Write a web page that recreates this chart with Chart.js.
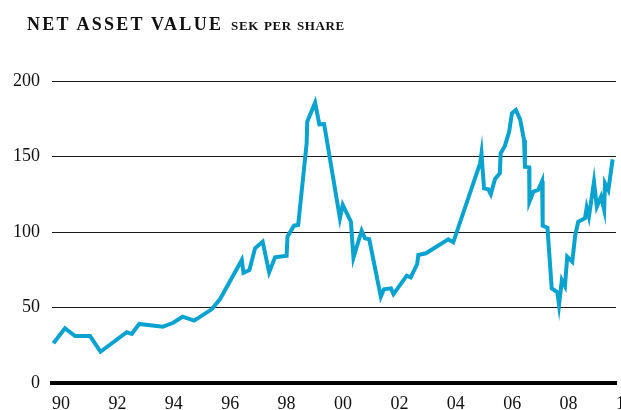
<!DOCTYPE html>
<html lang="en">

<head>
    <meta charset="UTF-8">
    <title>Net Asset Value</title>
    <script src="https://cdn.jsdelivr.net/npm/chart.js"></script>
    <style>
        body {
            margin: 0;
            background: #fff;
            overflow: hidden;
        }

        .wrap {
            position: relative;
            width: 621px;
            height: 410px;
        }

        .title {
            position: absolute;
            left: 27px;
            top: 15px;
            font-family: "Liberation Serif", serif;
            font-size: 18px;
            line-height: 1;
            font-weight: bold;
            color: #111;
            letter-spacing: 2.3px;
            white-space: nowrap;
        }

        .title .sub {
            font-variant: small-caps;
            letter-spacing: 0.6px;
            margin-left: 1px;
        }

        canvas {
            position: absolute;
            left: 0;
            top: 0;
        }
    </style>
</head>

<body>
    <div class="wrap">
        <canvas id="nav" width="621" height="410"></canvas>
        <div class="title">NET ASSET VALUE <span class="sub">sek per share</span></div>
    </div>

    <script>
        // dates as decimal years, values in SEK per share
        const years = [
            1990.05, 1990.46, 1990.82, 1991.35, 1991.72, 1992.65, 1992.83, 1993.09, 1993.93, 1994.30,
            1994.63, 1995.04, 1995.66, 1995.96, 1996.73, 1996.79, 1997.00, 1997.20, 1997.47, 1997.70,
            1997.91, 1998.32, 1998.35, 1998.58, 1998.73, 1999.03, 1999.05, 1999.33, 1999.48, 1999.65,
            2000.21, 2000.31, 2000.60, 2000.69, 2000.98, 2001.10, 2001.25, 2001.66, 2001.77, 2002.02,
            2002.11, 2002.58, 2002.72, 2002.95, 2002.99, 2003.26, 2004.05, 2004.23, 2005.18, 2005.23,
            2005.32, 2005.47, 2005.56, 2005.71, 2005.88, 2005.91, 2006.06, 2006.21, 2006.31, 2006.45,
            2006.60, 2006.74, 2006.77, 2006.92, 2006.93, 2007.07, 2007.24, 2007.38, 2007.40, 2007.57,
            2007.72, 2007.92, 2007.98, 2008.08, 2008.19, 2008.27, 2008.45, 2008.55, 2008.66, 2008.90,
            2008.96, 2009.04, 2009.22, 2009.32, 2009.47, 2009.58, 2009.61, 2009.73, 2009.88
        ];
        const navValues = [
            26.3, 36.2, 31.1, 31.1, 20.7, 33.6, 32.5, 39.1, 37.3, 39.9,
            43.9, 41.3, 48.8, 55.6, 81.5, 73.0, 74.8, 89.2, 93.6, 73.3,
            83.2, 84.3, 96.9, 104.2, 104.6, 158.7, 173.0, 185.6, 171.3, 171.5,
            109.1, 117.9, 106.8, 83.0, 100.9, 95.8, 95.2, 57.2, 62.1, 62.7,
            58.9, 71.1, 70.0, 78.8, 84.8, 85.9, 95.2, 93.2, 145.5, 152.1,
            128.9, 128.3, 125.0, 135.1, 138.9, 152.1, 157.0, 166.4, 178.6, 180.8,
            174.6, 160.9, 143.2, 142.8, 120.1, 126.7, 127.8, 133.8, 104.2, 102.8,
            62.7, 60.1, 51.7, 68.2, 64.2, 83.6, 80.3, 97.4, 106.8, 109.1,
            116.1, 110.1, 133.3, 116.8, 123.4, 114.6, 132.3, 127.8, 148.1
        ];
        const xTickLabels = ["90", "92", "94", "96", "98", "00", "02", "04", "06", "08", "10"];
        const yTicks = [0, 50, 100, 150, 200];

        const points = years.map((y, i) => ({ x: y, y: navValues[i] }));
        const serif = "'Liberation Serif', 'DejaVu Serif', serif";

        new Chart(document.getElementById("nav"), {
            type: "line",
            data: {
                datasets: [{
                    data: points,
                    borderColor: "#0aa3cf",
                    borderWidth: 4,
                    pointRadius: 0,
                    tension: 0,
                    borderJoinStyle: "miter",
                    fill: false,
                }],
            },
            options: {
                responsive: false,
                animation: false,
                devicePixelRatio: 1,
                layout: {
                    padding: { top: 81, right: 5, left: 0, bottom: 0 },
                },
                plugins: {
                    legend: { display: false },
                    tooltip: { enabled: false },
                },
                scales: {
                    x: {
                        type: "linear",
                        min: 1990,
                        max: 2010,
                        grid: { display: false, drawTicks: false },
                        border: { display: true, color: "#000", width: 4 },
                        ticks: {
                            stepSize: 2,
                            align: "start",
                            padding: 10,
                            maxRotation: 0,
                            autoSkip: false,
                            color: "#111",
                            font: { family: serif, size: 18 },
                            callback: (v, i) => xTickLabels[i],
                        },
                        afterFit: (s) => {
                            // let the last label run off the edge like the print version
                            s.paddingRight = 0;
                            s.paddingLeft = 0;
                            s.height = 27;
                        },
                    },
                    y: {
                        min: 0,
                        max: 200,
                        afterBuildTicks: (s) => {
                            s.ticks = yTicks.map((v) => ({ value: v }));
                        },
                        grid: {
                            drawTicks: false,
                            lineWidth: 1,
                            color: (ctx) => ctx.tick && ctx.tick.value === 0 ? "rgba(0,0,0,0)" : "#1a1a1a",
                        },
                        border: { display: false },
                        ticks: {
                            padding: 12,
                            color: "#111",
                            font: { family: serif, size: 18 },
                        },
                        afterFit: (s) => {
                            s.width = 52;
                        },
                    },
                },
            },
        });
    </script>
</body>

</html>
